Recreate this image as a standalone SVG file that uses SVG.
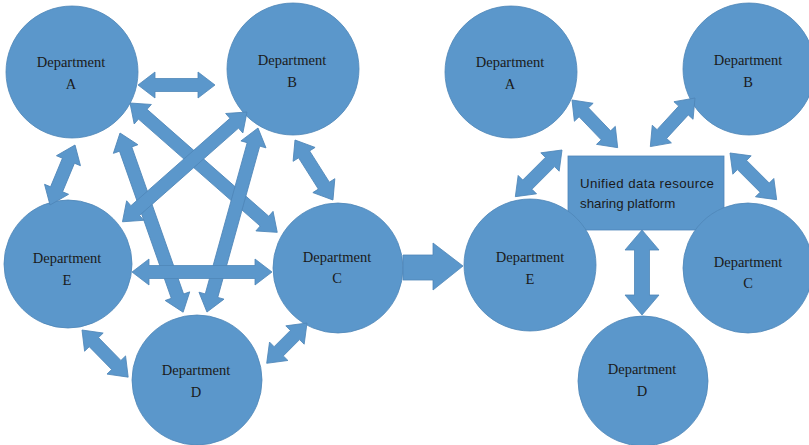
<svg xmlns="http://www.w3.org/2000/svg" width="809" height="445" viewBox="0 0 809 445">
<style>
.n{fill:#5b97cb;stroke:#4f86b8;stroke-width:0.8}
.a{fill:#5b97cb;stroke:#4f86b8;stroke-width:0.8}
.t{font-family:"Liberation Serif","Times New Roman",serif;font-size:14.5px;fill:#1a1a1a;text-anchor:middle}
.s{font-family:"Liberation Sans",Arial,sans-serif;font-size:13.3px;fill:#1a1a1a}
</style>
<rect width="809" height="445" fill="#ffffff"/>
<g id="platform"><rect class="n" x="568" y="156" width="156" height="74"/>
<text class="s" x="580" y="188" textLength="134" lengthAdjust="spacing">Unified data resource</text>
<text class="s" x="580" y="208">sharing platform</text></g>
<g id="L_A"><circle class="n" cx="72" cy="72" r="66"/><text class="t" x="71" y="67">Department</text><text class="t" x="71" y="89">A</text></g>
<g id="L_B"><circle class="n" cx="293" cy="69" r="66"/><text class="t" x="292" y="65">Department</text><text class="t" x="292" y="87">B</text></g>
<g id="L_E"><circle class="n" cx="68" cy="264" r="64"/><text class="t" x="67" y="263">Department</text><text class="t" x="67" y="285">E</text></g>
<g id="L_C"><circle class="n" cx="338" cy="268" r="65"/><text class="t" x="337" y="262">Department</text><text class="t" x="337" y="283">C</text></g>
<g id="L_D"><circle class="n" cx="197" cy="380" r="65"/><text class="t" x="196" y="375">Department</text><text class="t" x="196" y="397">D</text></g>
<g id="R_A"><circle class="n" cx="511" cy="72" r="66"/><text class="t" x="510" y="67">Department</text><text class="t" x="510" y="89">A</text></g>
<g id="R_B"><circle class="n" cx="749" cy="69" r="66"/><text class="t" x="748" y="65">Department</text><text class="t" x="748" y="87">B</text></g>
<g id="R_E"><circle class="n" cx="530" cy="265" r="66"/><text class="t" x="530" y="262">Department</text><text class="t" x="530" y="284">E</text></g>
<g id="R_C"><circle class="n" cx="748" cy="268" r="65"/><text class="t" x="748" y="267">Department</text><text class="t" x="748" y="288">C</text></g>
<g id="R_D"><circle class="n" cx="643" cy="381" r="65"/><text class="t" x="642" y="374">Department</text><text class="t" x="642" y="396">D</text></g>
<g id="connectors">
<polygon class="a" transform="translate(138,85)" points="0,0 17,-13 17,-6.5 60,-6.5 60,-13 77,0 60,13 60,6.5 17,6.5 17,13"/>
<polygon class="a" transform="translate(75,145) rotate(112.6)" points="0,0 17,-13 17,-6.5 48,-6.5 48,-13 65,0 48,13 48,6.5 17,6.5 17,13"/>
<polygon class="a" transform="translate(120,133) rotate(70.6)" points="0,0 17,-13 17,-6.5 173,-6.5 173,-13 190,0 173,13 173,6.5 17,6.5 17,13"/>
<polygon class="a" transform="translate(130,103) rotate(41.3)" points="0,0 17,-13 17,-6.5 179,-6.5 179,-13 196,0 179,13 179,6.5 17,6.5 17,13"/>
<polygon class="a" transform="translate(247,112) rotate(138.6)" points="0,0 17,-13 17,-6.5 149,-6.5 149,-13 166,0 149,13 149,6.5 17,6.5 17,13"/>
<polygon class="a" transform="translate(258,128) rotate(105.5)" points="0,0 17,-13 17,-6.5 174,-6.5 174,-13 191,0 174,13 174,6.5 17,6.5 17,13"/>
<polygon class="a" transform="translate(295,140) rotate(57.7)" points="0,0 17,-13 17,-6.5 54,-6.5 54,-13 71,0 54,13 54,6.5 17,6.5 17,13"/>
<polygon class="a" transform="translate(132,272)" points="0,0 17,-13 17,-6.5 123,-6.5 123,-13 140,0 123,13 123,6.5 17,6.5 17,13"/>
<polygon class="a" transform="translate(82,330) rotate(45.6)" points="0,0 17,-13 17,-6.5 49,-6.5 49,-13 66,0 49,13 49,6.5 17,6.5 17,13"/>
<polygon class="a" transform="translate(307,323) rotate(135)" points="0,0 17,-13 17,-6.5 40,-6.5 40,-13 57,0 40,13 40,6.5 17,6.5 17,13"/>
<polygon class="a" points="403,255 433,255 433,243 463,266 433,290 433,280 403,280"/>
<polygon class="a" transform="translate(572,100) rotate(46.2)" points="0,0 17,-13 17,-6.5 49,-6.5 49,-13 66,0 49,13 49,6.5 17,6.5 17,13"/>
<polygon class="a" transform="translate(695,98) rotate(132.6)" points="0,0 17,-13 17,-6.5 49,-6.5 49,-13 66,0 49,13 49,6.5 17,6.5 17,13"/>
<polygon class="a" transform="translate(562,150) rotate(135)" points="0,0 17,-13 17,-6.5 49,-6.5 49,-13 66,0 49,13 49,6.5 17,6.5 17,13"/>
<polygon class="a" transform="translate(730,153) rotate(45)" points="0,0 17,-13 17,-6.5 49,-6.5 49,-13 66,0 49,13 49,6.5 17,6.5 17,13"/>
<polygon class="a" transform="translate(642,230) rotate(90)" points="0,0 20,-17 20,-7.5 65,-7.5 65,-17 85,0 65,17 65,7.5 20,7.5 20,17"/>
</g>
</svg>
